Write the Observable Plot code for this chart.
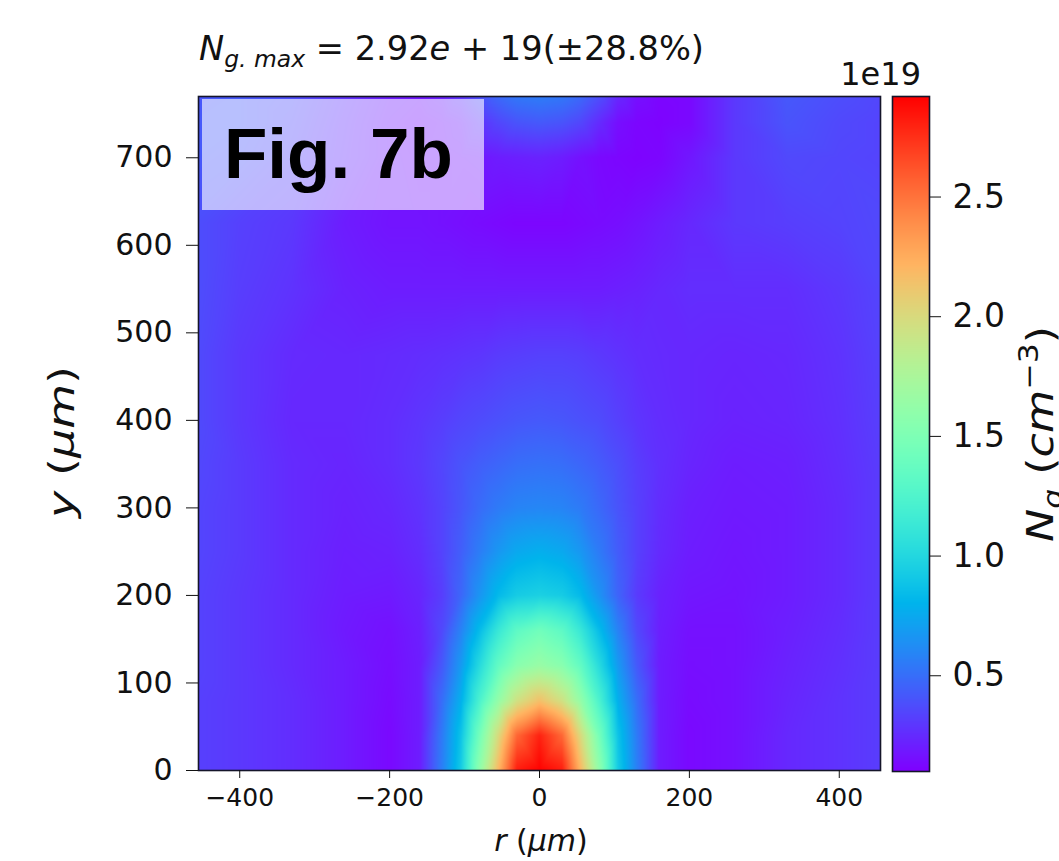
<!DOCTYPE html>
<html><head><meta charset="utf-8">
<script src="https://cdn.jsdelivr.net/npm/d3@7"></script>
<script src="https://cdn.jsdelivr.net/npm/@observablehq/plot@0.6"></script>
<style>
body{margin:0;background:#fff;}
#wrap{position:relative;width:1059px;height:861px;overflow:hidden;background:#fff;}
#wrap svg{position:absolute;left:0;top:0;}
</style></head><body><div id="wrap"></div>
<script>
// radial positions (µm) of the sampled columns
const rValues = [-460,-400,-330,-260,-200,-160,-130,-105,-80,-55,-30,0,30,55,80,105,130,160,200,260,330,400,460];
// heights (µm) of the sampled rows
const yLevels = [0,40,80,120,160,200,250,300,350,400,475,550,625,700,740,775];
// N_g values (×1e19 cm^-3), one array per row
const row_y0   = [0.33,0.30,0.26,0.20,0.13,0.20,0.57,0.92,1.60,2.20,2.82,2.92,2.82,2.20,1.60,0.92,0.57,0.20,0.13,0.16,0.24,0.28,0.32];
const row_y40  = [0.33,0.30,0.26,0.20,0.13,0.20,0.55,0.88,1.45,2.00,2.55,2.80,2.55,2.00,1.45,0.88,0.55,0.20,0.13,0.16,0.24,0.28,0.32];
const row_y80  = [0.33,0.30,0.26,0.20,0.14,0.20,0.50,0.78,1.22,1.62,1.95,2.15,1.95,1.62,1.22,0.78,0.50,0.20,0.14,0.16,0.23,0.28,0.32];
const row_y120 = [0.34,0.30,0.25,0.20,0.15,0.20,0.42,0.68,1.02,1.35,1.56,1.65,1.56,1.35,1.02,0.68,0.42,0.20,0.15,0.16,0.22,0.27,0.32];
const row_y160 = [0.34,0.30,0.25,0.19,0.16,0.21,0.36,0.58,0.84,1.12,1.33,1.43,1.33,1.12,0.84,0.58,0.36,0.21,0.16,0.16,0.21,0.26,0.32];
const row_y200 = [0.34,0.30,0.25,0.20,0.19,0.23,0.32,0.47,0.66,0.83,0.93,0.96,0.93,0.83,0.65,0.46,0.31,0.22,0.18,0.17,0.20,0.25,0.32];
const row_y250 = [0.35,0.31,0.25,0.21,0.22,0.26,0.34,0.44,0.56,0.67,0.75,0.78,0.75,0.67,0.55,0.43,0.33,0.25,0.20,0.18,0.20,0.25,0.32];
const row_y300 = [0.35,0.31,0.25,0.22,0.24,0.28,0.34,0.41,0.49,0.55,0.59,0.60,0.59,0.55,0.48,0.40,0.33,0.26,0.21,0.19,0.20,0.25,0.32];
const row_y350 = [0.36,0.31,0.25,0.23,0.26,0.30,0.35,0.40,0.44,0.47,0.50,0.51,0.50,0.47,0.43,0.38,0.32,0.27,0.23,0.20,0.21,0.26,0.32];
const row_y400 = [0.37,0.30,0.24,0.24,0.26,0.29,0.32,0.35,0.37,0.39,0.41,0.42,0.41,0.39,0.37,0.33,0.29,0.26,0.24,0.22,0.23,0.27,0.33];
const row_y475 = [0.37,0.30,0.25,0.24,0.25,0.26,0.27,0.28,0.29,0.31,0.32,0.33,0.33,0.32,0.30,0.28,0.26,0.25,0.24,0.23,0.24,0.28,0.34];
const row_y550 = [0.38,0.32,0.28,0.22,0.20,0.20,0.20,0.20,0.20,0.20,0.20,0.20,0.20,0.20,0.20,0.21,0.22,0.24,0.26,0.26,0.26,0.30,0.35];
const row_y625 = [0.38,0.33,0.30,0.20,0.17,0.17,0.16,0.15,0.14,0.13,0.12,0.12,0.12,0.13,0.14,0.15,0.17,0.20,0.24,0.30,0.32,0.34,0.36];
const row_y700 = [0.42,0.40,0.34,0.25,0.18,0.16,0.16,0.17,0.18,0.20,0.21,0.22,0.20,0.16,0.13,0.12,0.11,0.12,0.18,0.30,0.36,0.35,0.34];
const row_y740 = [0.42,0.42,0.36,0.26,0.18,0.15,0.17,0.20,0.28,0.35,0.40,0.42,0.40,0.35,0.25,0.15,0.12,0.11,0.13,0.30,0.40,0.36,0.34];
const row_y775 = [0.40,0.42,0.38,0.28,0.20,0.18,0.22,0.30,0.40,0.50,0.56,0.58,0.56,0.50,0.40,0.25,0.16,0.12,0.13,0.30,0.42,0.38,0.35];
const rows = [row_y0,row_y40,row_y80,row_y120,row_y160,row_y200,row_y250,row_y300,row_y350,row_y400,row_y475,row_y550,row_y625,row_y700,row_y740,row_y775];

const xTicks = [-400,-200,0,200,400];
const yTicks = [0,100,200,300,400,500,600,700];
const colorTicks = [0.5,1.0,1.5,2.0,2.5];
const xDomain = [-455,455];
const yDomain = [0,770];
const colorDomain = [0.1,2.92];

const points = [];
rows.forEach((row,j)=>row.forEach((v,i)=>points.push({r:rValues[i], y:yLevels[j], v})));

// matplotlib "rainbow" colormap
function rainbow(t){
  const r = Math.min(1,Math.abs(2*t-0.5)), g = Math.max(0,Math.sin(Math.PI*t)), b = Math.max(0,Math.cos(Math.PI*t/2));
  return `rgb(${Math.round(255*r)},${Math.round(255*g)},${Math.round(255*b)})`;
}
const colorOpts = {type:"linear", domain:colorDomain, interpolate:rainbow, clamp:true};
const font = "DejaVu Sans";

const main = Plot.plot({
  width:1059, height:861, marginLeft:198, marginRight:179, marginTop:96, marginBottom:91,
  style:{fontFamily:font, background:"white", color:"#111"},
  x:{domain:xDomain}, y:{domain:yDomain}, color:colorOpts,
  marks:[
    Plot.raster(points,{x:"r", y:"y", fill:"v", interpolate:"barycentric"}),
    Plot.frame({stroke:"#15152a", strokeWidth:1.6}),
    Plot.axisX({ticks:xTicks, tickSize:8, tickPadding:10, fontSize:25, label:null, stroke:"#111"}),
    Plot.axisY({ticks:yTicks, tickSize:12, tickPadding:14, fontSize:30, label:null, stroke:"#111"})
  ]
});

const bar = Plot.plot({
  width:1059, height:861, marginLeft:892, marginRight:130, marginTop:96, marginBottom:90,
  style:{fontFamily:font, background:"transparent", color:"#111"},
  x:{domain:[0,1], axis:null}, y:{domain:colorDomain, axis:null}, color:colorOpts,
  marks:[
    Plot.raster({x1:0, x2:1, y1:colorDomain[0], y2:colorDomain[1], fill:(x,y)=>y}),
    Plot.frame({stroke:"#15152a", strokeWidth:1.6}),
    Plot.axisY({anchor:"right", ticks:colorTicks, tickFormat:d3.format(".1f"), tickSize:11, tickPadding:12, fontSize:33, label:null, stroke:"#111"})
  ]
});

const wrap = document.getElementById("wrap");
wrap.appendChild(main);
wrap.appendChild(bar);

const svg = d3.select(bar);
svg.style("pointer-events","none");
const ann = svg.append("g").attr("font-family",font).attr("fill","#111").attr("text-anchor","start");

// title
const title = ann.append("text").attr("x",199).attr("y",60).attr("font-size",33).attr("text-anchor","start")
  .attr("textLength",505).attr("lengthAdjust","spacingAndGlyphs");
title.append("tspan").attr("font-style","italic").text("N");
title.append("tspan").attr("font-style","italic").attr("font-size",23).attr("dy",7).text("g. max");
title.append("tspan").attr("dy",-7).text(" = 2.92");
title.append("tspan").attr("font-style","italic").text("e");
title.append("tspan").text(" + 19(\u00b128.8%)");

// colorbar multiplier
ann.append("text").attr("x",921).attr("y",85).attr("text-anchor","end").attr("font-size",32).text("1e19");

// x label
const xl = ann.append("text").attr("x",541).attr("y",851).attr("text-anchor","middle").attr("font-size",30);
xl.append("tspan").attr("font-style","italic").text("r");
xl.append("tspan").text(" (");
xl.append("tspan").attr("font-style","italic").text("\u03bcm");
xl.append("tspan").text(")");

// y label
const yl = ann.append("text").attr("transform","translate(74,442) rotate(-90)").attr("text-anchor","middle")
  .attr("font-size",36).attr("textLength",152).attr("lengthAdjust","spacingAndGlyphs");
yl.append("tspan").attr("font-style","italic").text("y");
yl.append("tspan").text(" (");
yl.append("tspan").attr("font-style","italic").text("\u03bcm");
yl.append("tspan").text(")");

// colorbar label
const cl = ann.append("text").attr("transform","translate(1053,434) rotate(-90)").attr("text-anchor","middle")
  .attr("font-size",38).attr("textLength",216).attr("lengthAdjust","spacingAndGlyphs");
cl.append("tspan").attr("font-style","italic").text("N");
cl.append("tspan").attr("font-style","italic").attr("font-size",27).attr("dy",9).text("g");
cl.append("tspan").attr("dy",-9).text(" (");
cl.append("tspan").attr("font-style","italic").text("cm");
cl.append("tspan").attr("font-size",27).attr("dy",-15).text("\u22123");
cl.append("tspan").attr("dy",15).text(")");

// Fig. 7b badge
ann.append("rect").attr("x",202).attr("y",99).attr("width",282).attr("height",111)
  .attr("fill","white").attr("fill-opacity",0.62);
ann.append("text").attr("x",224).attr("y",178).attr("text-anchor","start").attr("font-family","Liberation Sans, Arial, sans-serif")
  .attr("font-weight","bold").attr("font-size",71).attr("fill","#000").text("Fig. 7b");
</script></body></html>
